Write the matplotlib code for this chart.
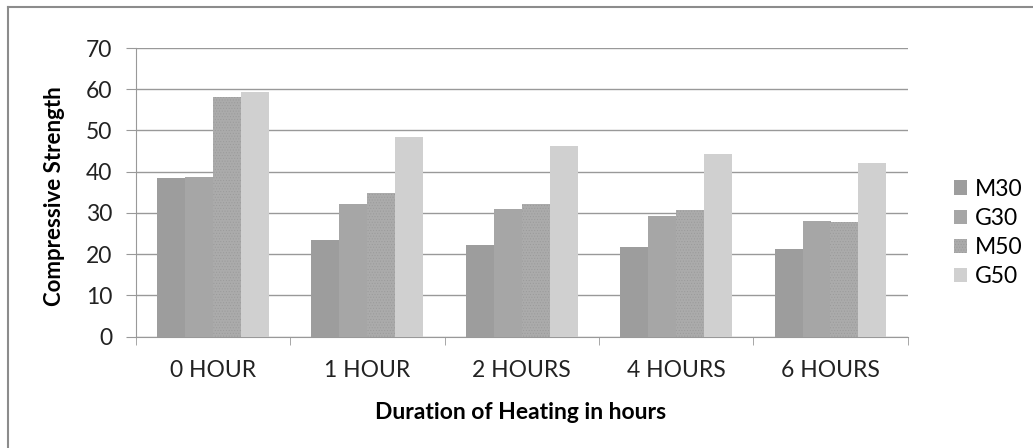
import numpy as np
import matplotlib.pyplot as plt
from matplotlib.lines import Line2D

plt.rcParams["font.family"] = ["Lato", "DejaVu Sans"]
plt.rcParams["hatch.linewidth"] = 0.4

categories = ["0 HOUR", "1 HOUR", "2 HOURS", "4 HOURS", "6 HOURS"]
m30 = [38.4, 23.4, 22.2, 21.8, 21.2]
g30 = [38.7, 32.2, 30.9, 29.3, 28.0]
m50 = [58.2, 34.9, 32.1, 30.6, 27.9]
g50 = [59.4, 48.3, 46.3, 44.2, 42.0]
series = ["M30", "G30", "M50", "G50"]

W, H = 1033, 448
fig = plt.figure(figsize=(W / 100, H / 100), dpi=100)
ax = fig.add_axes([135.7 / W, 1 - 336.7 / H, 772 / W, 288.7 / H])

x = np.arange(len(categories))
w = 0.181
colors = ["#9d9d9d", "#a6a6a6", "#ababab", "#d0d0d0"]
for i, (name, vals) in enumerate(zip(series, [m30, g30, m50, g50])):
    kw = {}
    if name == "M50":
        kw = dict(hatch="......", edgecolor="#9a9a9a", linewidth=0)
    ax.bar(x + (i - 1.5) * w, vals, w, color=colors[i], label=name, zorder=3, **kw)

fs = 16.5
ax.set_xlim(-0.5, len(categories) - 0.5)
ax.set_ylim(0, 70)
ax.set_yticks(range(0, 71, 10))
ax.yaxis.grid(True, color="#999999", linewidth=1.0, zorder=0)
ax.set_xticks(x)
ax.set_xticklabels(categories, fontsize=fs, color="#222222")
ax.set_xticks(np.arange(-0.5, len(categories)), minor=True)
ax.tick_params(axis="x", which="major", length=0, pad=17)
ax.tick_params(axis="x", which="minor", length=6, color="#999999")
ax.tick_params(axis="y", length=7, color="#999999", labelsize=fs, labelcolor="#222222", pad=10)

for s in ["top", "right"]:
    ax.spines[s].set_visible(False)
ax.spines["left"].set_color("#999999")
ax.spines["bottom"].set_color("#999999")

ax.set_ylabel("Compressive Strength", fontsize=16, fontweight="bold")
ax.yaxis.set_label_coords(-0.0916, 0.486)
ax.set_xlabel("Duration of Heating in hours", fontsize=16.5, fontweight="bold")
ax.xaxis.set_label_coords(0.499, -0.226)

fig.legend(*ax.get_legend_handles_labels(), loc="center left",
           bbox_to_anchor=(954 / W, 1 - 233 / H), frameon=False, fontsize=fs,
           borderpad=0, borderaxespad=0,
           handlelength=0.57, handleheight=0.57, handletextpad=0.35, labelspacing=0.36)

# chart border (only top and left edges fall inside the image)
fig.lines.append(Line2D([7.5 / W, 7.5 / W], [0, 1 - 7.5 / H], transform=fig.transFigure,
                        color="#8c8c8c", linewidth=1.5))
fig.lines.append(Line2D([7.5 / W, 1], [1 - 7.5 / H, 1 - 7.5 / H], transform=fig.transFigure,
                        color="#8c8c8c", linewidth=1.5))

fig.savefig("out.png", dpi=100)
